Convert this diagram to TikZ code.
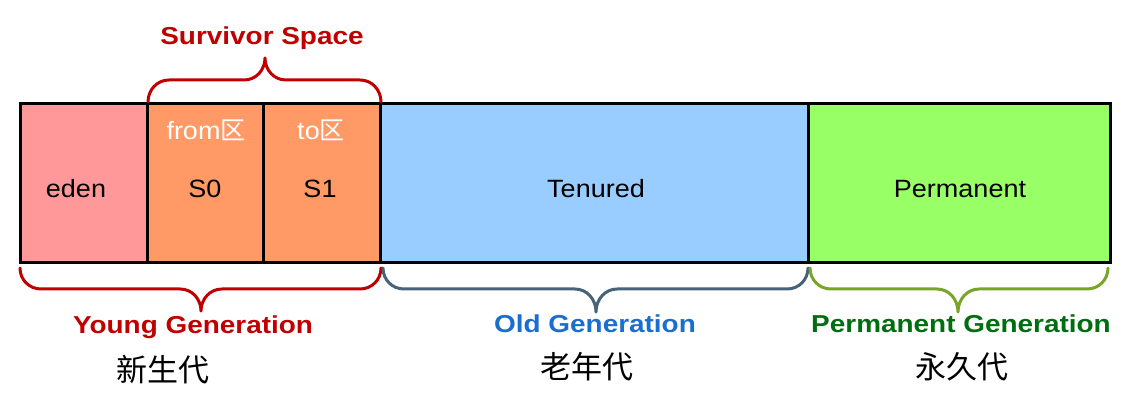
\documentclass[tikz,border=0pt]{standalone}
\usepackage{fontspec}
\newfontfamily\lab[FakeStretch=1.08]{Liberation Sans}
\newfontfamily\blab[FakeStretch=1.14]{Liberation Sans Bold}
\newfontfamily\cjk{Noto Sans CJK SC}
\definecolor{edenc}{HTML}{FF9999}
\definecolor{survc}{HTML}{FF9966}
\definecolor{tenc}{HTML}{99CCFF}
\definecolor{permc}{HTML}{99FF66}
\definecolor{redb}{HTML}{C00000}
\definecolor{oldb}{HTML}{46637A}
\definecolor{permb}{HTML}{78A428}
\definecolor{oldt}{HTML}{1A6ED0}
\definecolor{permt}{HTML}{006E10}
% #1 left x, #2 right x, #3 tip x, #4 end y, #5 middle y, #6 tip y, #7 colour
\newcommand\mybrace[7]{%
  \draw[bracestyle,#7] (#1,#4)
    .. controls (#1,{#4+0.55*(#5-#4)}) and ({#1+9},#5) .. ({#1+21},#5)
    -- ({#3-21},#5)
    .. controls ({#3-9},#5) and (#3,{#5+0.45*(#6-#5)}) .. (#3,#6)
    .. controls (#3,{#5+0.45*(#6-#5)}) and ({#3+9},#5) .. ({#3+21},#5)
    -- ({#2-21},#5)
    .. controls ({#2-9},#5) and (#2,{#4+0.55*(#5-#4)}) .. (#2,#4);}
\begin{document}
\begin{tikzpicture}[x=1pt,y=-1pt,
  box/.style={draw=black,line width=3pt,inner sep=0pt,outer sep=0pt,minimum height=159pt},
  lbl/.style={font=\lab\fontsize{25}{30}\selectfont,anchor=base,inner sep=0pt},
  wlbl/.style={lbl,text=white},
  glbl/.style={font=\blab\fontsize{24.5}{30}\selectfont,anchor=base,inner sep=0pt},
  cn/.style={font=\cjk\fontsize{31}{36}\selectfont,inner sep=0pt},
  bracestyle/.style={line width=3pt,line cap=round,line join=round}]
\useasboundingbox (0,0) rectangle (1132,403);
% boxes
\node[box,fill=edenc,minimum width=127pt] (eden) at (83.5,183.5) {};
\node[box,fill=survc,minimum width=116pt] (s0) at (205,183.5) {};
\node[box,fill=survc,minimum width=117pt] (s1) at (321.5,183.5) {};
\node[box,fill=tenc,minimum width=428pt] (ten) at (594,183.5) {};
\node[box,fill=permc,minimum width=302pt] (perm) at (959,183.5) {};
% labels in boxes
\node[lbl] (teden) at (76,198) {eden};
\node[lbl] (ts0) at (205,198) {S0};
\node[lbl] (ts1) at (320,198) {S1};
\node[lbl] (tten) at (596,198) {Tenured};
\node[lbl] (tperm) at (960,198) {Permanent};
\node[wlbl] (from) at (206,140) {from{\cjk 区}};
\node[wlbl] (to) at (321,140) {to{\cjk 区}};
% braces
\mybrace{148}{381}{265}{102}{80}{58}{redb}
\mybrace{20}{381}{201}{268}{289}{311}{redb}
\mybrace{383}{808}{596}{268}{289}{312}{oldb}
\mybrace{810}{1108}{958}{268}{289}{312}{permb}
% group labels
\node[glbl,text=redb] (surv) at (262,45) {Survivor Space};
\node[glbl,text=redb] (young) at (193,333) {Young Generation};
\node[glbl,text=oldt] (old) at (595,332) {Old Generation};
\node[glbl,text=permt] (pgen) at (961,332) {Permanent Generation};
\node[cn] (cyoung) at (163,370) {新生代};
\node[cn] (cold) at (587,367) {老年代};
\node[cn] (cperm) at (962,367) {永久代};
\end{tikzpicture}
\end{document}
